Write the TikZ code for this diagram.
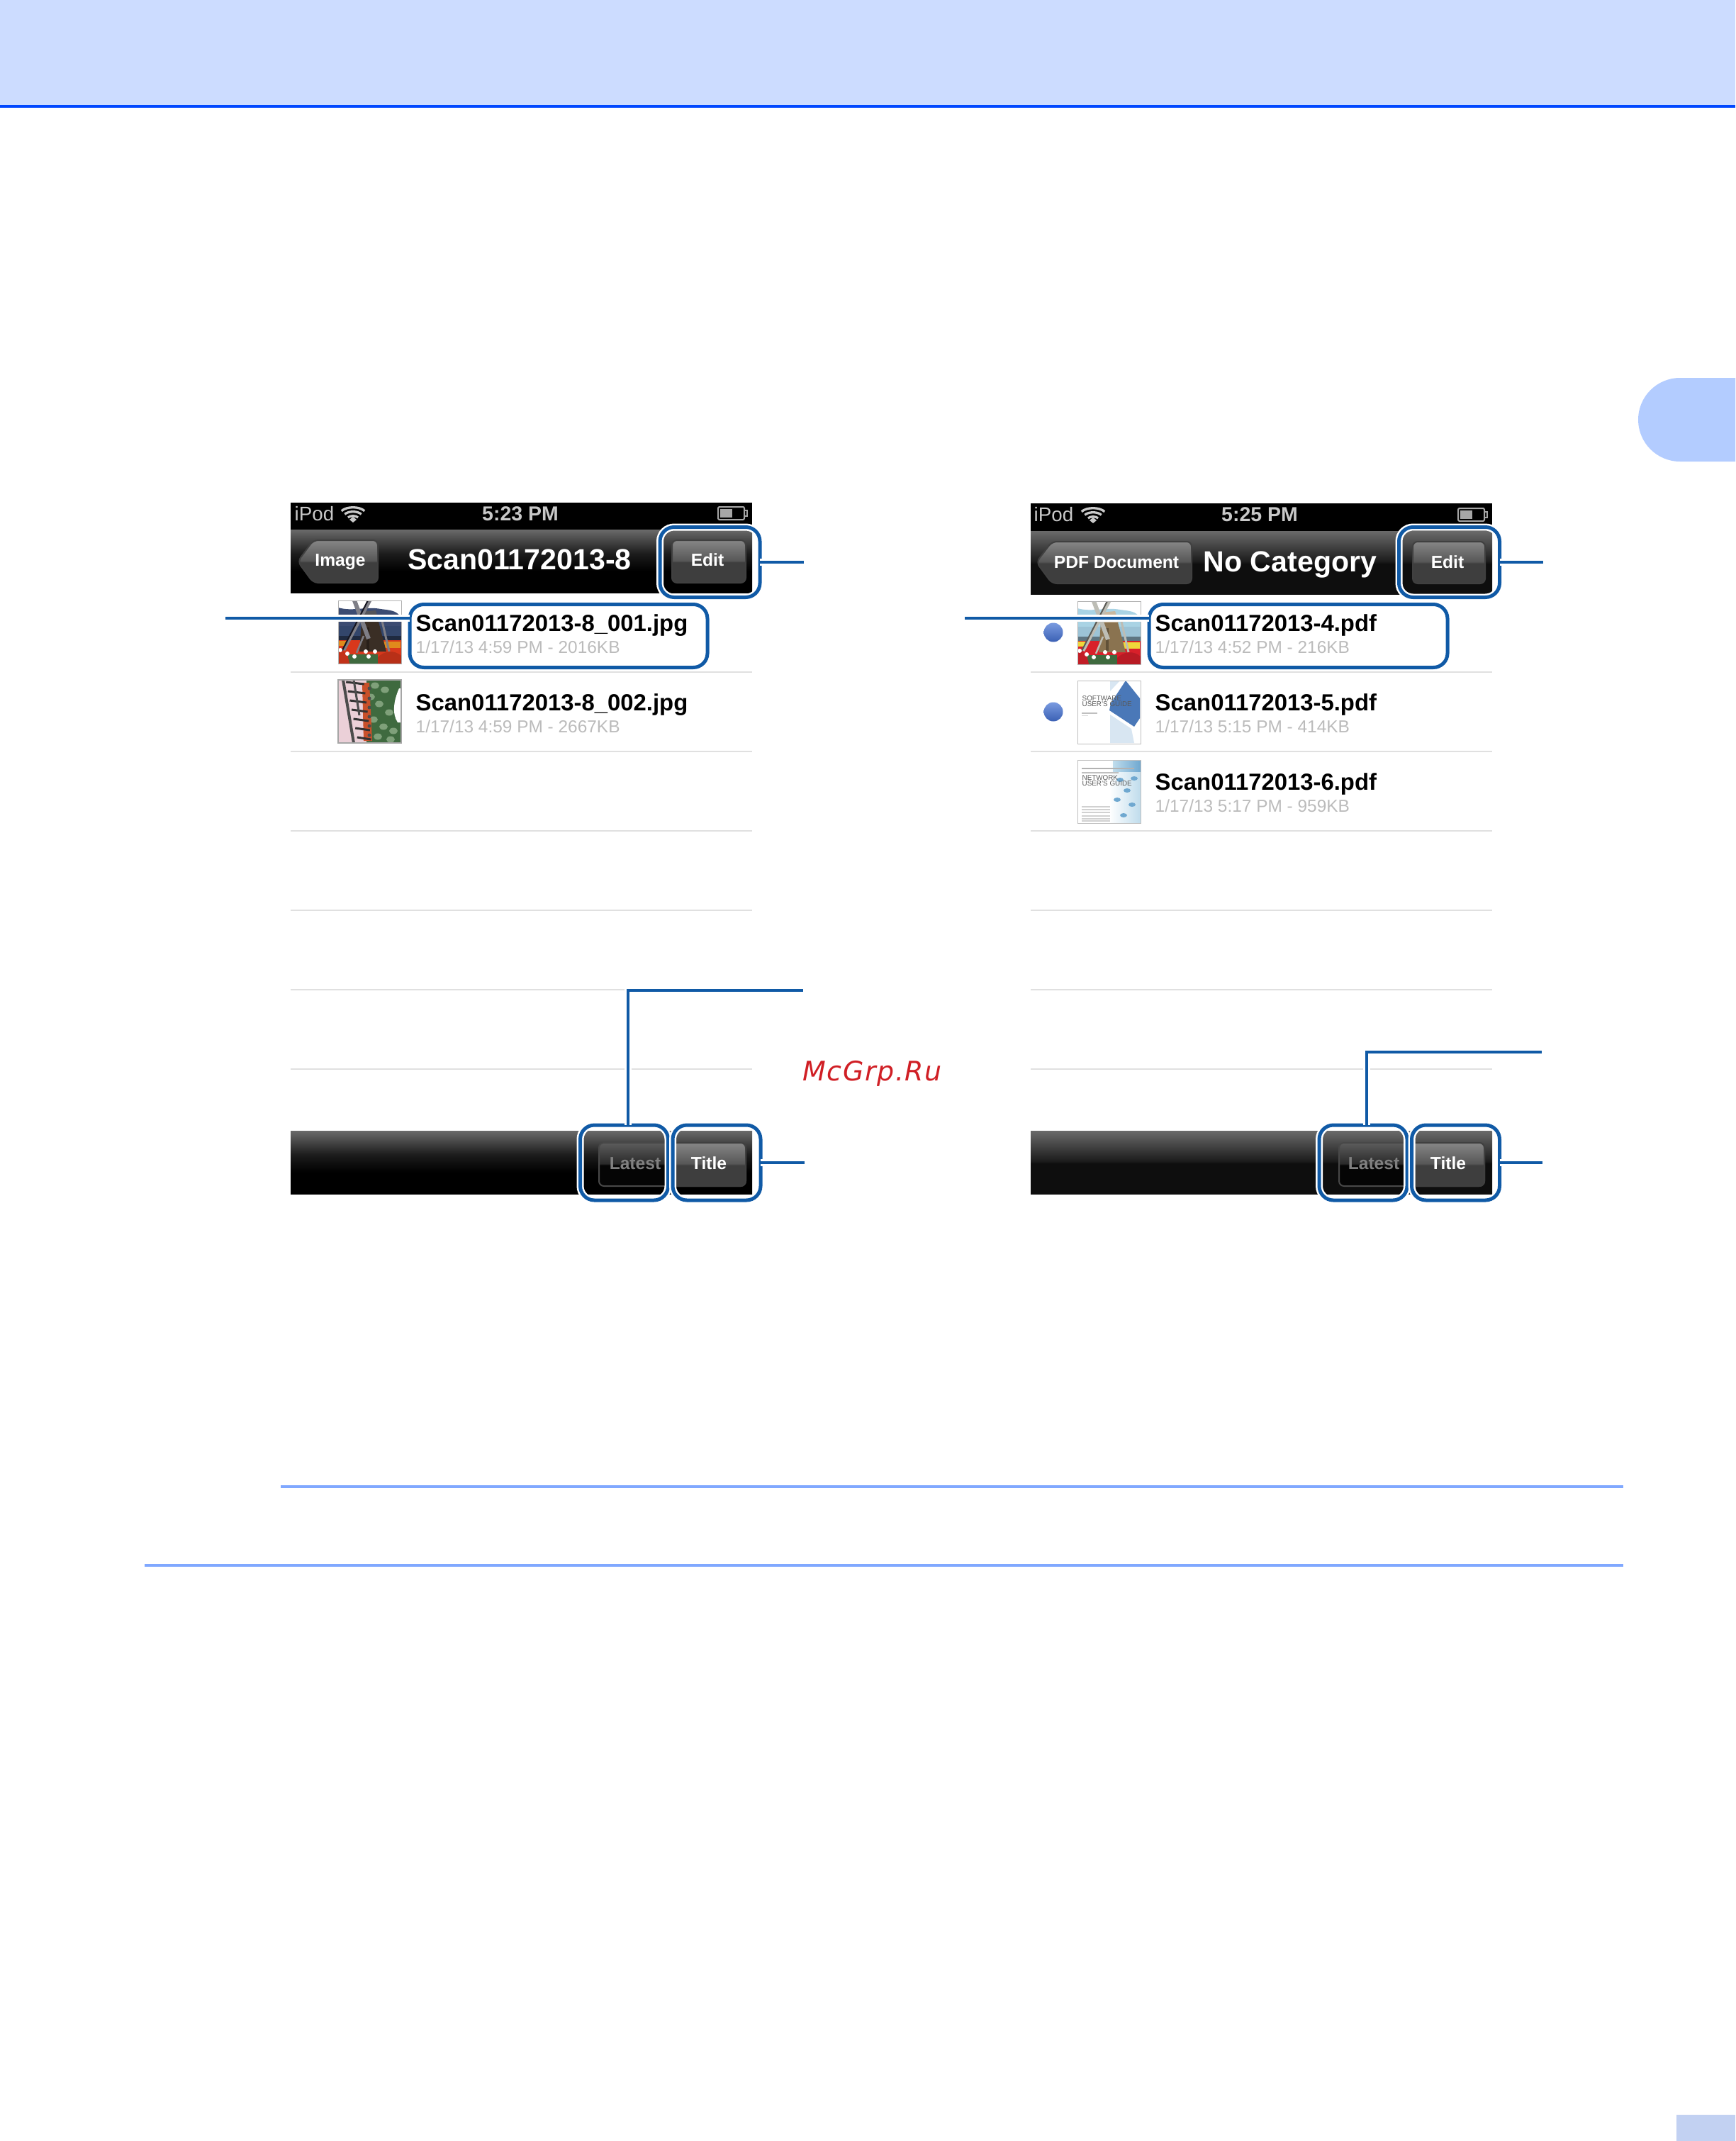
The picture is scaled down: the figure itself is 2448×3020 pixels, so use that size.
\documentclass[tikz,border=0pt]{standalone}
\usepackage{fontspec}
\setmainfont{Liberation Sans}
\newfontfamily\markfont[LetterSpace=4]{DejaVu Sans}

\definecolor{bandblue}{HTML}{CCDCFF}
\definecolor{tabblue}{HTML}{B3CCFF}
\definecolor{bandline}{HTML}{0047FF}
\definecolor{ruleblue}{HTML}{80A8FF}
\definecolor{callout}{HTML}{105AA6}
\definecolor{rowline}{HTML}{E0E0E0}
\definecolor{subgrey}{HTML}{BBBBBB}
\definecolor{statgrey}{HTML}{C8C8C8}
\definecolor{bartop}{HTML}{6A6A6A}
\definecolor{barmid}{HTML}{1C1C1C}
\definecolor{barlow}{HTML}{000000}
\definecolor{barlowb}{HTML}{0E0E0E}
\definecolor{btntop}{HTML}{868686}
\definecolor{btnmid}{HTML}{575757}
\definecolor{btnlow}{HTML}{3E3E3E}
\definecolor{offtop}{HTML}{5C5C5C}
\definecolor{offmid}{HTML}{2A2A2A}
\definecolor{offlow}{HTML}{050505}
\definecolor{offedge}{HTML}{484848}
\definecolor{dottop}{HTML}{7A9BE0}
\definecolor{dotlow}{HTML}{3A60B4}
\definecolor{markred}{HTML}{D01F25}
% windmill colours, dark print and light print
\definecolor{hillA}{HTML}{3C4C72}
\definecolor{skyA}{HTML}{33466B}
\definecolor{towerA}{HTML}{3A2E25}
\definecolor{capA}{HTML}{55555A}
\definecolor{bladeA}{HTML}{7E7E86}
\definecolor{strutA}{HTML}{151520}
\definecolor{fieldA}{HTML}{D8381C}
\definecolor{patchA}{HTML}{E08A1C}
\definecolor{hillB}{HTML}{A9D3E4}
\definecolor{skyB}{HTML}{9CC3D6}
\definecolor{towerB}{HTML}{8A7350}
\definecolor{capB}{HTML}{C8B8A0}
\definecolor{bladeB}{HTML}{BDBDB5}
\definecolor{strutB}{HTML}{5A5A55}
\definecolor{fieldB}{HTML}{D8202A}
\definecolor{patchB}{HTML}{EFD83A}
% photo and cover colours
\definecolor{leafdark}{HTML}{3F6A3F}
\definecolor{leaflight}{HTML}{7FA07A}
\definecolor{walkpink}{HTML}{EBD0D8}
\definecolor{coatred}{HTML}{C8502A}
\definecolor{coverblue}{HTML}{4A78B8}
\definecolor{coverpale}{HTML}{D8E6F2}
\definecolor{wavelight}{HTML}{BFDCEC}
\definecolor{wavedark}{HTML}{6FA8D0}

\pgfdeclareverticalshading{navshade}{100bp}{color(0bp)=(barlow); color(25bp)=(barlow); color(42bp)=(barlow); color(56bp)=(barmid); color(75bp)=(bartop); color(100bp)=(bartop)}
\pgfdeclareverticalshading{navshadeb}{100bp}{color(0bp)=(barlowb); color(25bp)=(barlowb); color(49bp)=(barlowb); color(51bp)=(barmid); color(75bp)=(bartop); color(100bp)=(bartop)}
\pgfdeclareverticalshading{btnshade}{100bp}{color(0bp)=(btnlow); color(25bp)=(btnlow); color(49bp)=(btnlow); color(51bp)=(btnmid); color(75bp)=(btntop); color(100bp)=(btntop)}
\pgfdeclareverticalshading{offshade}{100bp}{color(0bp)=(offlow); color(25bp)=(offlow); color(49bp)=(offlow); color(51bp)=(offmid); color(75bp)=(offtop); color(100bp)=(offtop)}

\tikzset{
  hlbox/.style = {draw = callout, line width = 0.5mm, rounded corners = 2mm, inner sep = 0, outer sep = 0,
    preaction = {draw = white, line width = 1mm}},
  leader/.style = {draw = callout, line width = 0.4mm, preaction = {draw = white, line width = 1mm}},
  navbtn/.style = {draw = black!75, line width = 0.2mm, rounded corners = 0.7mm, shade, shading = btnshade},
  offbtn/.style = {draw = offedge, line width = 0.2mm, rounded corners = 0.7mm, shade, shading = offshade},
  rowrule/.style = {draw = rowline, line width = 0.2mm},
  filename/.style = {anchor = base west, inner sep = 0, font = \fontsize{9.35pt}{11pt}\selectfont\bfseries},
  filesub/.style = {anchor = base west, inner sep = 0, text = subgrey, font = \fontsize{6.95pt}{8pt}\selectfont},
  navtitle/.style = {anchor = base, inner sep = 0, text = white, font = \fontsize{11.7pt}{13pt}\selectfont\bfseries},
  btnlabel/.style = {anchor = base, inner sep = 0, text = white, font = \fontsize{7pt}{8pt}\selectfont\bfseries},
  statlabel/.style = {anchor = base, inner sep = 0, text = statgrey, font = \fontsize{7.9pt}{9pt}\selectfont},
  timelabel/.style = {anchor = base, inner sep = 0, text = statgrey, font = \fontsize{8.1pt}{9pt}\selectfont\bfseries},
  bookword/.style = {anchor = base west, inner sep = 0, text = black!65, font = \fontsize{2.8pt}{3pt}\selectfont},
  bluedot/.style = {circle, minimum size = 2.7mm, inner sep = 0, top color = dottop, bottom color = dotlow}
}

% wifi fan and battery of the status bar
\newcommand{\wifiicon}[2]{
  \foreach \r in {10,16.5,23}
    \draw[statgrey, line width = 0.33mm] (#1-.707*\r,#2-.707*\r) .. controls (#1-.39*\r,#2-\r) and (#1+.39*\r,#2-\r) .. (#1+.707*\r,#2-.707*\r);
  \fill[statgrey] (#1-5,#2-4) -- (#1,#2-8) -- (#1+5,#2-4) -- (#1,#2) -- cycle;
}
\newcommand{\batteryicon}[2]{
  \draw[black!35, line width = 0.2mm, rounded corners = 0.2mm] (#1,#2) rectangle (#1+37,#2+18);
  \fill[black!35] (#1+3,#2+3) rectangle (#1+20,#2+15);
  \draw[black!35, line width = 0.15mm] (#1+37,#2+5) -- (#1+41,#2+5) -- (#1+41,#2+13) -- (#1+37,#2+13);
}
% segmented control: off part first, on part over it
\newcommand{\segments}[4]{
  \path[offbtn] (#1,#4) rectangle (#3,#4+61);
  \path[navbtn] (#2,#4) [rounded corners = 0.7mm] -- (#3,#4) -- (#3,#4+61) -- (#2,#4+61) [sharp corners] -- cycle;
}
% x, y, print letter (A or B)
\newcommand{\millthumb}[3]{
  \begin{scope}[shift = {(#1,#2)}]
    \begin{scope}
      \clip (0,0) rectangle (89,89);
      \fill[white] (0,0) rectangle (89,89);
      \fill[hill#3] (0,10) .. controls (20,16) and (40,8) .. (60,12) .. controls (75,14) and (82,14) .. (89,24) -- (89,60) -- (0,60) -- cycle;
      \fill[sky#3] (0,36) rectangle (89,52);
      \fill[sky#3!60!black] (0,50) rectangle (89,57);
      \fill[field#3] (0,56) rectangle (89,89);
      \fill[patch#3] (1,57) rectangle (14,64);
      \fill[patch#3] (62,58) rectangle (88,67);
      \fill[tower#3] (33,30) -- (57,30) -- (68,72) -- (30,72) -- cycle;
      \fill[tower#3!70!black] (40,38) rectangle (44,70);
      \fill[cap#3] (33,16) -- (53,14) -- (58,30) -- (31,30) -- cycle;
      \draw[blade#3, line width = 0.6mm] (23,0) -- (43,54);
      \draw[blade#3, line width = 0.45mm] (45,0) -- (8,70);
      \draw[strut#3, line width = 0.2mm] (42,0) -- (5,72);
      \draw[blade#3, line width = 0.3mm] (62,29) -- (72,72);
      \draw[blade#3, line width = 0.25mm] (36,50) -- (26,74);
      \fill[leafdark] (14,76) rectangle (56,89);
      \fill[field#3!85!black] (56,80) .. controls (66,70) and (80,70) .. (89,78) -- (89,89) -- (56,89) -- cycle;
      \fill[field#3!90!black] (0,72) .. controls (8,68) and (14,76) .. (16,89) -- (0,89) -- cycle;
      \foreach \px/\py in {3/70,13/75,23/79,39/72,52/72,43/79}
        \fill[white] (\px,\py) circle [radius = 0.3mm];
    \end{scope}
    \draw[black!30, line width = 0.1mm] (0,0) rectangle (89,89);
  \end{scope}
}
% x, y: rotated group photo
\newcommand{\crowdthumb}[2]{
  \begin{scope}[shift = {(#1,#2)}]
    \begin{scope}
      \clip (0,0) rectangle (89,89);
      \fill[walkpink] (0,0) rectangle (40,89);
      \fill[leafdark] (40,0) rectangle (89,89);
      \foreach \px/\py in {52/8,66/14,58/34,72/46,50/56,64/66,78/72,56/80,74/84,46/24}
        \fill[leaflight] (\px,\py) ellipse [x radius = 0.6mm, y radius = 0.45mm];
      \fill[white] (86,12) .. controls (78,30) and (76,48) .. (84,60) -- (89,60) -- (89,12) -- cycle;
      \fill[coatred] (34,4) -- (44,4) -- (48,86) -- (36,86) -- cycle;
      \foreach \py in {6,19,32,45,58,71,84}
        \draw[black!80, line width = 0.3mm] (10+\py/5,\py-3) -- (36+\py/8,\py);
      \draw[black!70, line width = 0.4mm] (7,0) -- (22,89);
      \draw[black!70, line width = 0.3mm] (22,0) -- (30,50);
      \foreach \py in {12,26,39,52,65,78}
        \fill[black!70] (44,\py) circle [radius = 0.25mm];
    \end{scope}
    \draw[black!35, line width = 0.12mm] (0,0) rectangle (89,89);
  \end{scope}
}

\begin{document}
\begin{tikzpicture}[x = 0.1mm, y = -0.1mm]
  \useasboundingbox (0,0) rectangle (2448,3020);

  % page furniture
  \fill[bandblue] (0,0) rectangle (2448,148);
  \fill[bandline] (0,148) rectangle (2448,152);
  \fill[tabblue] (2448,533) -- (2370,533) arc[start angle = 90, end angle = 270, radius = 5.9mm] -- (2448,651) -- cycle;
  \fill[bandblue!95!black] (2365,2983) rectangle (2448,3020);
  \fill[ruleblue] (396,2095) rectangle (2290,2099);
  \fill[ruleblue] (204,2206) rectangle (2290,2210);

  % left screen
  \fill[black] (410,709) rectangle (1061,747);
  \path[shade, shading = navshade] (410,747) rectangle (1061,836);
  \foreach \ry in {948,1060,1172,1284,1396,1508}
    \draw[rowrule] (410,\ry) -- (1061,\ry);
  \path[shade, shading = navshade] (410,1595) rectangle (1061,1684);

  \node[statlabel, anchor = base west] (podL) at (415,734) {iPod};
  \wifiicon{498}{737}
  \node[timelabel] (timeL) at (734,734) {5:23 PM};
  \batteryicon{1013}{715}

  \path[navbtn] (420,792) -- (442,762) -- (533,762) -- (533,822) -- (442,822) -- cycle;
  \node[btnlabel] (backL) at (480,798) {Image};
  \node[navtitle] (titleL) at (733,803) {Scan01172013-8};
  \path[navbtn] (948,762) rectangle (1052,822);
  \node[btnlabel] (editLtxt) at (998,798) {Edit};

  \millthumb{477}{847}{A}
  \crowdthumb{477}{959}
  \node[filename] (name1L) at (586,890) {Scan01172013-8\_001.jpg};
  \node[filesub] (sub1L) at (586,921) {1/17/13 4:59 PM - 2016KB};
  \node[filename] (name2L) at (586,1002) {Scan01172013-8\_002.jpg};
  \node[filesub] (sub2L) at (586,1033) {1/17/13 4:59 PM - 2667KB};

  \segments{845}{947}{1052}{1612}
  \node[btnlabel, text = black!50] (latestLtxt) at (896,1649) {Latest};
  \node[btnlabel] (sortLtxt) at (1000,1649) {Title};

  % right screen
  \fill[black] (1454,710) rectangle (2105,749);
  \path[shade, shading = navshadeb] (1454,749) rectangle (2105,838);
  \foreach \ry in {948,1060,1172,1284,1396,1508}
    \draw[rowrule] (1454,\ry) -- (2105,\ry);
  \path[shade, shading = navshadeb] (1454,1595) rectangle (2105,1684);

  \node[statlabel, anchor = base west] (podR) at (1458,735) {iPod};
  \wifiicon{1542}{738}
  \node[timelabel] (timeR) at (1777,735) {5:25 PM};
  \batteryicon{2057}{717}

  \path[navbtn] (1462,793) -- (1484,764) -- (1681,764) -- (1681,823) -- (1484,823) -- cycle;
  \node[btnlabel] (backR) at (1575,801) {PDF Document};
  \node[navtitle] (titleR) at (1820,806) {No Category};
  \path[navbtn] (1993,764) rectangle (2095,823);
  \node[btnlabel] (editRtxt) at (2042,801) {Edit};

  \node[bluedot] (dot1R) at (1486,892) {};
  \node[bluedot] (dot2R) at (1486,1004) {};

  \millthumb{1520}{848}{B}
  % software guide cover
  \fill[white] (1520,960) rectangle (1609,1049);
  \fill[coverblue] (1588,960) -- (1608,985) -- (1608,1013) -- (1600,1025) -- (1565,1002) -- (1567,992) -- cycle;
  \fill[coverpale] (1566,1008) -- (1596,1028) -- (1600,1048) -- (1566,1048) -- cycle;
  \fill[coverpale] (1566,960) -- (1580,960) -- (1566,975) -- cycle;
  \node[bookword] (sw1) at (1526,988) {SOFTWARE};
  \node[bookword] (sw2) at (1526,996) {USER'S GUIDE};
  \fill[black!25] (1526,1005) rectangle (1548,1007);
  \fill[black!15] (1526,1009) rectangle (1535,1010);
  \draw[black!25, line width = 0.1mm] (1520,960) rectangle (1609,1049);
  % network guide cover
  \fill[white] (1520,1072) rectangle (1609,1161);
  \path[left color = white, right color = wavelight] (1565,1072) rectangle (1609,1161);
  \path[left color = wavelight, right color = wavedark] (1570,1072) rectangle (1609,1088);
  \foreach \bx/\by in {1580/1100,1590/1115,1576/1128,1597/1135,1585/1150,1600/1098}
    \fill[wavedark] (\bx,\by) ellipse [x radius = 0.5mm, y radius = 0.3mm];
  \fill[black!30] (1526,1083) rectangle (1600,1085);
  \fill[black!25] (1526,1089) rectangle (1578,1091);
  \node[bookword] (nw1) at (1526,1100) {NETWORK};
  \node[bookword] (nw2) at (1526,1108) {USER'S GUIDE};
  \foreach \ly in {1137,1141,1145,1150,1154,1157}
    \fill[black!18] (1526,\ly) rectangle (1566,\ly+2);
  \draw[black!25, line width = 0.1mm] (1520,1072) rectangle (1609,1161);

  \node[filename] (name1R) at (1629,890) {Scan01172013-4.pdf};
  \node[filesub] (sub1R) at (1629,921) {1/17/13 4:52 PM - 216KB};
  \node[filename] (name2R) at (1629,1002) {Scan01172013-5.pdf};
  \node[filesub] (sub2R) at (1629,1033) {1/17/13 5:15 PM - 414KB};
  \node[filename] (name3R) at (1629,1114) {Scan01172013-6.pdf};
  \node[filesub] (sub3R) at (1629,1145) {1/17/13 5:17 PM - 959KB};

  \segments{1889}{1990}{2094}{1612}
  \node[btnlabel, text = black!50] (latestRtxt) at (1938,1649) {Latest};
  \node[btnlabel] (sortRtxt) at (2043,1649) {Title};

  % watermark
  \node[anchor = base west, inner sep = 0, text = markred, font = \markfont\fontsize{10.8pt}{12pt}\selectfont\itshape] (mark) at (1132,1524) {McGrp.Ru};

  % callouts
  \node[hlbox, minimum width = 14.1mm, minimum height = 9.9mm] (editL) at (1001.5,793) {};
  \node[hlbox, minimum width = 42mm, minimum height = 8.9mm] (fileL) at (788,897) {};
  \node[hlbox, minimum width = 12.4mm, minimum height = 10.6mm] (latestL) at (880.5,1640) {};
  \node[hlbox, minimum width = 12.4mm, minimum height = 10.6mm] (sortL) at (1011,1640) {};
  \node[hlbox, minimum width = 14.2mm, minimum height = 9.9mm] (editR) at (2044.5,793) {};
  \node[hlbox, minimum width = 42.1mm, minimum height = 8.9mm] (fileR) at (1831.5,897) {};
  \node[hlbox, minimum width = 12.4mm, minimum height = 10.6mm] (latestR) at (1923,1640) {};
  \node[hlbox, minimum width = 12.4mm, minimum height = 10.6mm] (sortR) at (2053.5,1640) {};

  \coordinate (editLend) at (1134,793);
  \coordinate (fileLend) at (318,872);
  \coordinate (latestLbend) at (886,1397);
  \coordinate (latestLend) at (1133,1397);
  \coordinate (sortLend) at (1135,1640);
  \coordinate (editRend) at (2177,793);
  \coordinate (fileRend) at (1361,872);
  \coordinate (latestRbend) at (1928,1484);
  \coordinate (latestRend) at (2175,1484);
  \coordinate (sortRend) at (2176,1640);

  \draw[leader] (editL) -- (editLend);
  \draw[leader] (fileL.west |- fileLend) -- (fileLend);
  \draw[leader] (latestLbend |- latestL.north) -- (latestLbend) -- (latestLend);
  \draw[leader] (sortL) -- (sortLend);
  \draw[leader] (editR) -- (editRend);
  \draw[leader] (fileR.west |- fileRend) -- (fileRend);
  \draw[leader] (latestRbend |- latestR.north) -- (latestRbend) -- (latestRend);
  \draw[leader] (sortR) -- (sortRend);
\end{tikzpicture}
\end{document}
